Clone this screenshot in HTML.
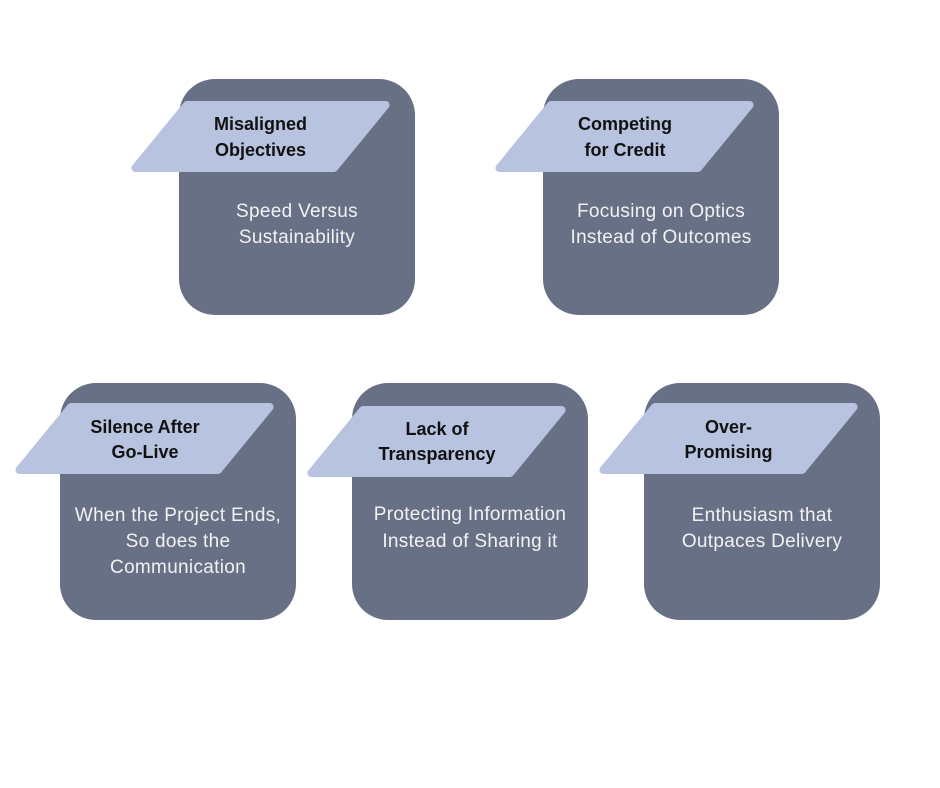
<!DOCTYPE html>
<html>
<head>
<meta charset="utf-8">
<style>
  html, body { margin: 0; padding: 0; background: #ffffff; }
  svg { display: block; }
  .box { fill: #687085; }
  .tag { fill: #B8C4DF; stroke: #B8C4DF; stroke-width: 8; stroke-linejoin: round; }
  .t { font-family: "Liberation Sans", sans-serif; font-weight: bold; font-size: 18px; fill: #111111; text-anchor: middle; }
  .d { font-family: "Liberation Sans", sans-serif; font-size: 19px; fill: #F2F2F2; text-anchor: middle; letter-spacing: 0.3px; }
</style>
</head>
<body>
<svg width="940" height="788" viewBox="0 0 940 788" xmlns="http://www.w3.org/2000/svg">
  <rect x="0" y="0" width="940" height="788" fill="#ffffff"/>

  <!-- Box 1 -->
  <rect class="box" x="179" y="79" width="236" height="236" rx="36" ry="36"/>
  <polygon class="tag" points="187,105 385.6,105 334,168 135.4,168"/>
  <text class="t" x="260.5" y="130">Misaligned</text>
  <text class="t" x="260.5" y="156">Objectives</text>
  <text class="d" x="297" y="217">Speed Versus</text>
  <text class="d" x="297" y="243">Sustainability</text>

  <!-- Box 2 -->
  <rect class="box" x="543" y="79" width="236" height="236" rx="36" ry="36"/>
  <polygon class="tag" points="551,105 749.6,105 698,168 499.4,168"/>
  <text class="t" x="625" y="130">Competing</text>
  <text class="t" x="625" y="156">for Credit</text>
  <text class="d" x="661" y="217">Focusing on Optics</text>
  <text class="d" x="661" y="243">Instead of Outcomes</text>

  <!-- Box 3 -->
  <rect class="box" x="60" y="383" width="236" height="237" rx="36" ry="36"/>
  <polygon class="tag" points="71,407 269.6,407 218,470 19.4,470"/>
  <text class="t" x="145" y="433">Silence After</text>
  <text class="t" x="145" y="458">Go-Live</text>
  <text class="d" x="178" y="521">When the Project Ends,</text>
  <text class="d" x="178" y="547">So does the</text>
  <text class="d" x="178" y="573">Communication</text>

  <!-- Box 4 -->
  <rect class="box" x="352" y="383" width="236" height="237" rx="36" ry="36"/>
  <polygon class="tag" points="363,410 561.6,410 510,473 311.4,473"/>
  <text class="t" x="437" y="435">Lack of</text>
  <text class="t" x="437" y="460">Transparency</text>
  <text class="d" x="470" y="520">Protecting Information</text>
  <text class="d" x="470" y="547">Instead of Sharing it</text>

  <!-- Box 5 -->
  <rect class="box" x="644" y="383" width="236" height="237" rx="36" ry="36"/>
  <polygon class="tag" points="655,407 853.6,407 802,470 603.4,470"/>
  <text class="t" x="728.5" y="433">Over-</text>
  <text class="t" x="728.5" y="458">Promising</text>
  <text class="d" x="762" y="521">Enthusiasm that</text>
  <text class="d" x="762" y="547">Outpaces Delivery</text>
</svg>
</body>
</html>
